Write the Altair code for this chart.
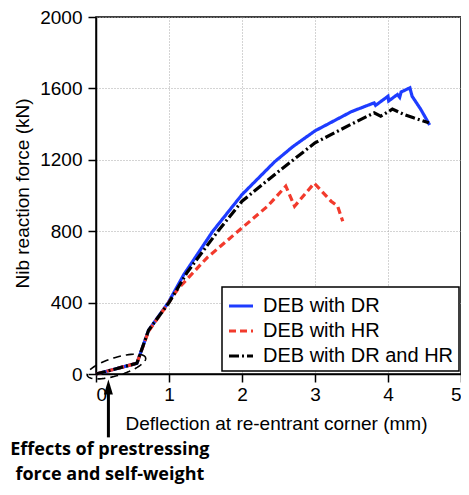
import altair as alt
import pandas as pd
import numpy as np

# ---- data ----
dr_x = [0, 0.56, 0.72, 0.99, 1.2, 1.6, 2.0, 2.45, 2.7, 3.0, 3.5, 3.81, 3.83, 4.0, 4.01, 4.13, 4.16, 4.18, 4.30, 4.33, 4.45, 4.57]
dr_y = [0, 60, 245, 400, 555, 800, 1005, 1190, 1275, 1362, 1470, 1519, 1505, 1556, 1530, 1566, 1550, 1580, 1603, 1556, 1482, 1395]

hr_x = [0, 0.56, 0.72, 0.97, 1.13, 1.52, 1.99, 2.35, 2.60, 2.72, 2.99, 3.22, 3.31, 3.38]
hr_y = [0, 60, 240, 385, 480, 651, 815, 940, 1052, 940, 1069, 968, 940, 856]

drhr_x = [0, 0.56, 0.72, 1.0, 1.25, 1.67, 2.0, 2.5, 2.72, 3.0, 3.5, 3.81, 3.90, 4.06, 4.22, 4.35, 4.56]
drhr_y = [0, 60, 245, 400, 570, 800, 968, 1135, 1205, 1295, 1400, 1463, 1444, 1484, 1454, 1435, 1407]

series_names = ["DEB with DR", "DEB with HR", "DEB with DR and HR"]
series_colors = ["#1e3cff", "#f23a2c", "#000000"]
series_dashes = [[1, 0], [7, 4], [10, 3, 2, 3]]

x_ticks = [0, 1, 2, 3, 4, 5]
y_ticks = [0, 400, 800, 1200, 1600, 2000]

note_lines = ["Effects of prestressing", "force and self-weight"]
note_x = [0.19, 0.19]
note_y = [-426, -565]

arrow_x = [0.17]
arrow_tip_y = [-73]
arrow_top_y = [-110]
arrow_tail_y = [-355]

# ellipse annotation (centre in mm / kN, semi-axes in px, tilt)
ell_cx, ell_cy = 0.28, 42
ell_a_px, ell_b_px, ell_ang = 30.5, 9.0, np.deg2rad(17)

# ---- build tables ----
rows = []
for name, xs_, ys_ in zip(series_names, [dr_x, hr_x, drhr_x], [dr_y, hr_y, drhr_y]):
    for i, (xv, yv) in enumerate(zip(xs_, ys_)):
        rows.append({"series": name, "x": xv, "y": yv, "i": i})
df = pd.DataFrame(rows)

W, H = 365, 357
PX_PER_MM = W / 5
PX_PER_KN = H / 2000
t = np.linspace(0, 2 * np.pi, 73)
ex = ell_a_px * np.cos(t) * np.cos(ell_ang) - ell_b_px * np.sin(t) * np.sin(ell_ang)
ey = ell_a_px * np.cos(t) * np.sin(ell_ang) + ell_b_px * np.sin(t) * np.cos(ell_ang)
ell = pd.DataFrame({"x": ell_cx + ex / PX_PER_MM, "y": ell_cy + ey / PX_PER_KN, "i": range(len(t))})

notes = pd.DataFrame({"x": note_x, "y": note_y, "t": note_lines})
arrow = pd.DataFrame({"x": arrow_x, "y": arrow_top_y, "y2": arrow_tail_y, "yt": arrow_tip_y})

xs = alt.Scale(domain=[0, 5], nice=False, zero=False)
ys = alt.Scale(domain=[0, 2000], nice=False, zero=False)

lines = alt.Chart(df).mark_line(strokeWidth=3.2).encode(
    x=alt.X("x:Q", scale=xs,
            axis=alt.Axis(values=x_ticks, format="d", title="Deflection at re-entrant corner (mm)",
                          titleX=180, titleY=49, titleBaseline="middle", labelPadding=3)),
    y=alt.Y("y:Q", scale=ys,
            axis=alt.Axis(values=y_ticks, format="d", title="Nib reaction force (kN)",
                          titleX=-74, titleY=176, titleAngle=-90, titleAlign="center",
                          titleBaseline="middle", labelPadding=6)),
    color=alt.Color("series:N", sort=series_names,
                    scale=alt.Scale(domain=series_names, range=series_colors),
                    legend=alt.Legend(title=None)),
    strokeDash=alt.StrokeDash("series:N", sort=series_names,
                              scale=alt.Scale(domain=series_names, range=series_dashes),
                              legend=alt.Legend(title=None)),
    order="i:Q",
)

ellipse = alt.Chart(ell).mark_line(color="black", strokeWidth=1.6, strokeDash=[8, 5]).encode(
    x=alt.X("x:Q", scale=xs), y=alt.Y("y:Q", scale=ys), order="i:Q"
)

arrow_line = alt.Chart(arrow).mark_rule(color="black", strokeWidth=3).encode(
    x=alt.X("x:Q", scale=xs), y=alt.Y("y:Q", scale=ys), y2="y2:Q"
)
arrow_head = alt.Chart(arrow).mark_point(
    shape="M0,-1L-0.6,1L0.6,1Z", filled=True, size=225, color="black", opacity=1
).encode(x=alt.X("x:Q", scale=xs), y=alt.Y("yt:Q", scale=ys))

note = alt.Chart(notes).mark_text(
    font="Open Sans", fontWeight="bold", fontSize=18, color="black", align="center", baseline="middle"
).encode(x=alt.X("x:Q", scale=xs), y=alt.Y("y:Q", scale=ys), text="t:N")

chart = alt.layer(lines, ellipse, arrow_line, arrow_head, note).properties(
    width=W, height=H,
    autosize=alt.AutoSizeParams(type="none"),
    padding={"left": 88, "top": 9, "right": 0, "bottom": 113},
).configure_view(
    stroke="black", strokeWidth=1.5
).configure_axis(
    labelFont="Liberation Sans", titleFont="Liberation Sans",
    labelFontSize=19, titleFontSize=19, titleFontWeight="normal",
    labelColor="black", titleColor="black",
    domainColor="black", domainWidth=1.5, tickColor="black", tickWidth=1.5, tickSize=8,
    gridColor="#a8a8a8", gridDash=[1, 2], gridWidth=1,
).configure_legend(
    orient="none", legendX=126, legendY=270,
    fillColor="white", strokeColor="black", strokeWidth=1.5, padding=5, cornerRadius=0,
    labelFont="Liberation Sans", labelFontSize=20, labelColor="black", labelOffset=8,
    symbolType="stroke", symbolSize=576, symbolStrokeWidth=3.2, rowPadding=1,
    labelLimit=400,
)

chart.save("out.html", embed_options={"renderer": "svg", "actions": False})
